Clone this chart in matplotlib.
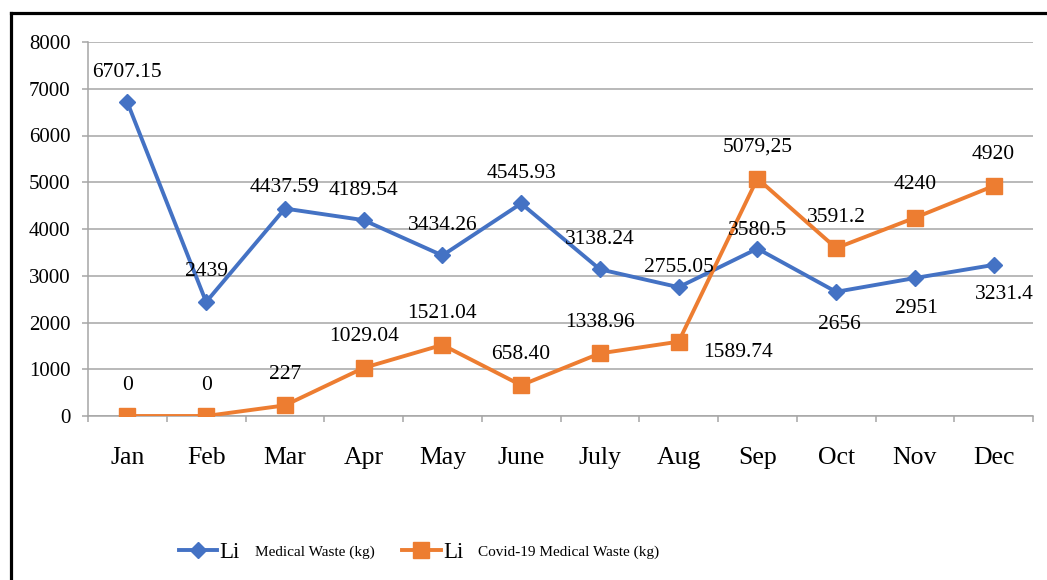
import matplotlib
matplotlib.use("Agg")
import matplotlib.pyplot as plt
from matplotlib.lines import Line2D
import numpy as np

plt.rcParams['font.family'] = ['Liberation Serif', 'DejaVu Serif']

months = ['Jan', 'Feb', 'Mar', 'Apr', 'May', 'June', 'July', 'Aug', 'Sep', 'Oct', 'Nov', 'Dec']
medical = [6707.15, 2439, 4437.59, 4189.54, 3434.26, 4545.93, 3138.24, 2755.05, 3580.5, 2656, 2951, 3231.4]
medical_lbl = ['6707.15', '2439', '4437.59', '4189.54', '3434.26', '4545.93', '3138.24', '2755.05',
               '3580.5', '2656', '2951', '3231.4']
covid = [0, 0, 227, 1029.04, 1521.04, 658.40, 1338.96, 1589.74, 5079.25, 3591.2, 4240, 4920]
covid_lbl = ['0', '0', '227', '1029.04', '1521.04', '658.40', '1338.96', '1589.74',
             '5079,25', '3591.2', '4240', '4920']

blue = '#4472C4'
orange = '#ED7D31'
grey = '#A6A6A6'

W, H = 1047, 580
fig = plt.figure(figsize=(W / 100, H / 100), dpi=100)
ax = fig.add_axes([88 / W, 1 - 416 / H, 945 / W, 374 / H])

x = np.arange(len(months))
l1, = ax.plot(x, medical, color=blue, lw=2.8, marker='D', ms=8.5, zorder=3)
l2, = ax.plot(x, covid, color=orange, lw=2.8, marker='s', ms=12, zorder=4)

ax.set_xlim(-0.5, 11.5)
ax.set_ylim(0, 8000)
ax.set_yticks(np.arange(0, 8001, 1000))
ax.grid(axis='y', color=grey, lw=1.1)
ax.set_axisbelow(True)
for s in ['top', 'right']:
    ax.spines[s].set_visible(False)
for s in ['left', 'bottom']:
    ax.spines[s].set_color(grey)
    ax.spines[s].set_linewidth(1.1)

ax.set_xticks(x)
ax.set_xticklabels(months, fontsize=18.5)
ax.set_xticks(np.arange(-0.5, 12, 1), minor=True)
ax.tick_params(axis='x', which='major', length=0, pad=22)
ax.tick_params(axis='x', which='minor', length=4.5, color=grey, width=1.1)
ax.tick_params(axis='y', length=4.5, color=grey, width=1.1, labelsize=15, pad=8)

# data labels (offsets in pixels)
blue_off = {2: (0, 21), 7: (0, 20), 8: (0, 18), 9: (3, -33), 10: (2, -30), 11: (11, -30)}
orange_off = {7: (59, -11), 10: (0, 33)}
for i in range(len(months)):
    dx, dy = blue_off.get(i, (0, 30))
    ax.annotate(medical_lbl[i], (x[i], medical[i]), xytext=(dx, dy), textcoords='offset pixels',
                ha='center', va='center', fontsize=15.5, zorder=6)
    dx, dy = orange_off.get(i, (0, 31))
    ax.annotate(covid_lbl[i], (x[i], covid[i]), xytext=(dx, dy), textcoords='offset pixels',
                ha='center', va='center', fontsize=15.5, zorder=6)

# legend
leg = fig.legend([l1, l2], ['Li', 'Li'], ncol=2, loc='center', bbox_to_anchor=(321 / W, 1 - 552 / H),
                 frameon=False, fontsize=16.5, handlelength=1.67, handletextpad=0.1,
                 columnspacing=7.1, borderpad=0)
fig.canvas.draw()
rend = fig.canvas.get_renderer()
descs = ['Medical Waste (kg)', 'Covid-19 Medical Waste (kg)']
for t, d in zip(leg.get_texts(), descs):
    bb = t.get_window_extent(rend)
    fig.text((bb.x1 + 15) / W, 1 - 552 / H, d, ha='left', va='center', fontsize=11)

# outer border (left and top only visible)
fig.add_artist(Line2D([10.5 / W, 10.5 / W], [0, 1 - 13 / H], color='black', lw=2.3,
                      transform=fig.transFigure))
fig.add_artist(Line2D([10.5 / W, 1], [1 - 13 / H, 1 - 13 / H], color='black', lw=2.3,
                      transform=fig.transFigure))

fig.savefig('out.png', dpi=100)
